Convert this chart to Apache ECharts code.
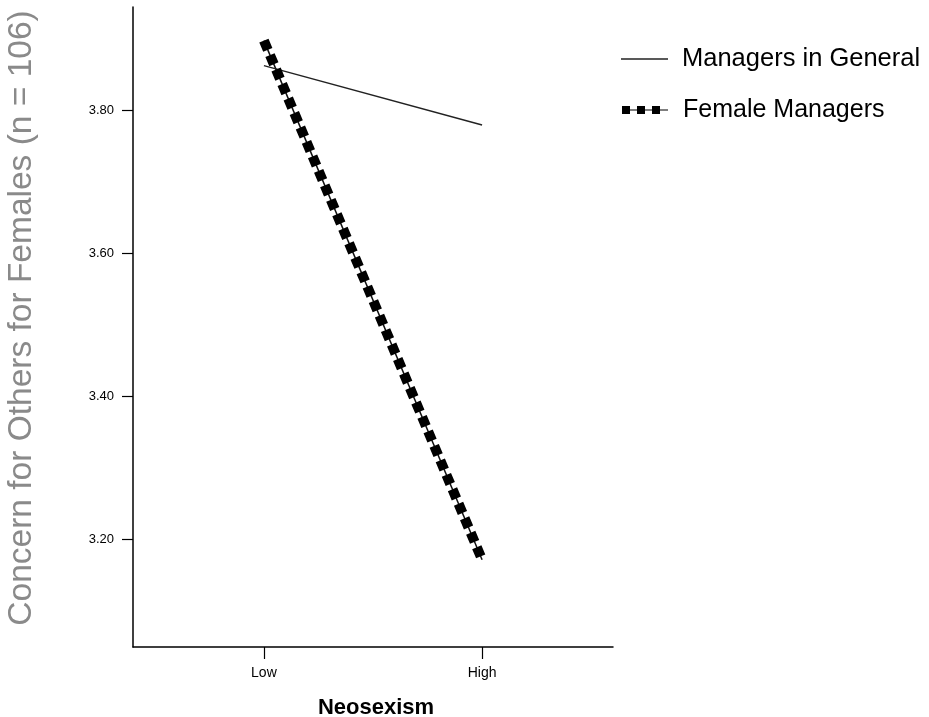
<!DOCTYPE html>
<html>
<head>
<meta charset="utf-8">
<title>Neosexism interaction plot</title>
<script src="https://cdn.jsdelivr.net/npm/echarts@6/dist/echarts.min.js"></script>
<style>
  html, body { margin: 0; padding: 0; background: #fff; }
  #chart { width: 929px; height: 717px; }
</style>
</head>
<body>
<div id="chart"></div>
<script>
// Levels of neosexism on the x axis
const categories = ['Low', 'High'];
// Estimated marginal means of concern for others (females, n = 106)
const managersInGeneral = [3.863, 3.780];
const femaleManagers = [3.898, 3.172];
// Tick values shown on the y axis
const yTicks = [3.20, 3.40, 3.60, 3.80];

const xPos = categories.map((c, i) => i + 1);
const toPoints = vals => vals.map((v, i) => [xPos[i], v]);

const chart = echarts.init(document.getElementById('chart'), null, { renderer: 'canvas' });

const fontFamily = '"Liberation Sans", Arial, Helvetica, sans-serif';

chart.setOption({
  animation: false,
  backgroundColor: '#ffffff',
  grid: {
    left: 133, top: 7, width: 480, height: 640,
    containLabel: false,
    outerBoundsMode: 'none'
  },
  legend: [
    {
      data: [{ name: 'Managers in General', icon: 'path://M0,0h47v1.4h-47z', itemStyle: { color: '#222', borderWidth: 0 } }],
      left: 621, top: 44, padding: 0,
      itemWidth: 47, itemHeight: 1.4,
      symbolKeepAspect: false,
      selectedMode: false,
      textStyle: { fontFamily, fontSize: 25.5, color: '#000', padding: [0, 0, 0, 9], lineHeight: 30 }
    },
    {
      data: [{
        name: 'Female Managers',
        icon: 'path://M0,0h8v8h-8z M8,3.4h7v1.2h-7z M15,0h8v8h-8z M23,3.4h7v1.2h-7z M30,0h8v8h-8z M38,3.4h8v1.2h-8z',
        itemStyle: { color: '#000', borderWidth: 0 }
      }],
      left: 622, top: 95, padding: 0,
      itemWidth: 46, itemHeight: 8,
      symbolKeepAspect: false,
      selectedMode: false,
      textStyle: { fontFamily, fontSize: 25, color: '#000', padding: [0, 0, 0, 10], lineHeight: 30 }
    }
  ],
  xAxis: {
    type: 'value',
    min: 0.4, max: 2.6,
    name: 'Neosexism',
    nameLocation: 'middle',
    nameGap: 50,
    nameTextStyle: { fontFamily, fontSize: 22, fontWeight: 'bold', color: '#000', padding: [0, 0, 0, 6] },
    axisLine: { show: true, onZero: false, lineStyle: { color: '#000', width: 1.5 } },
    axisTick: { show: true, length: 12, customValues: xPos, lineStyle: { color: '#000', width: 1.2 } },
    axisLabel: {
      customValues: xPos,
      margin: 19,
      fontFamily, fontSize: 14, color: '#000',
      formatter: v => categories[Math.round(v) - 1] || ''
    },
    splitLine: { show: false }
  },
  yAxis: {
    type: 'value',
    min: 3.05, max: 3.945,
    name: 'Concern for Others for Females (n = 106)',
    nameLocation: 'middle',
    nameGap: 94,
    nameTextStyle: { fontFamily, fontSize: 33.5, color: '#8a8a8a', padding: [0, 0, 0, 18] },
    axisLine: { show: true, onZero: false, lineStyle: { color: '#000', width: 1.5 } },
    axisTick: { show: true, length: 11, customValues: yTicks, lineStyle: { color: '#000', width: 1.2 } },
    axisLabel: {
      customValues: yTicks,
      margin: 19,
      fontFamily, fontSize: 13, color: '#000',
      formatter: v => v.toFixed(2)
    },
    splitLine: { show: false }
  },
  series: [
    {
      name: 'Managers in General',
      type: 'line',
      data: toPoints(managersInGeneral),
      symbol: 'none',
      color: '#222',
      lineStyle: { color: '#222', width: 1.4 },
      z: 3
    },
    {
      name: 'Female Managers',
      type: 'line',
      data: toPoints(femaleManagers),
      symbol: 'none',
      color: '#000',
      lineStyle: { color: '#111', width: 1.5 },
      z: 2
    },
    {
      name: 'Female Managers',
      type: 'line',
      data: toPoints(femaleManagers),
      symbol: 'none',
      color: '#000',
      lineStyle: { color: '#000', width: 10, type: [10, 5.7], cap: 'butt' },
      z: 4
    }
  ]
});
</script>
</body>
</html>
